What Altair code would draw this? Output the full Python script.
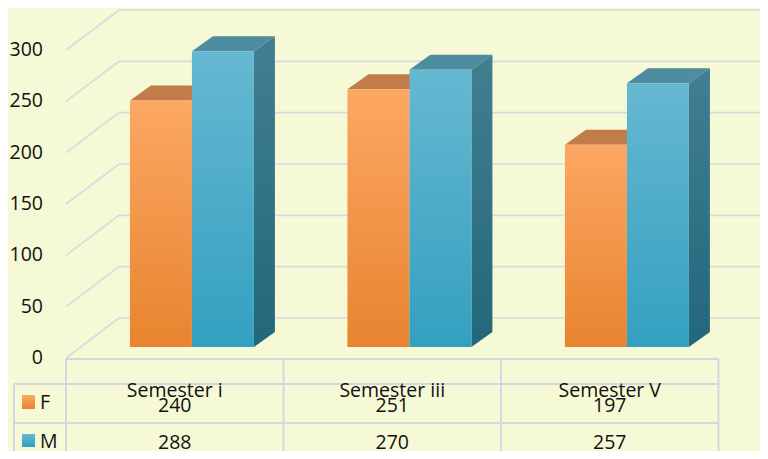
import altair as alt
import pandas as pd

# ---- data ----
categories = ["Semester i", "Semester iii", "Semester V"]
series = ["F", "M"]
f_values = [240, 251, 197]
m_values = [288, 270, 257]
y_ticks = [0, 50, 100, 150, 200, 250, 300]

# ---- layout (pixels inside the chart) ----
W, H = 752, 443
PX_Y = 1.0267      # pixels per value unit
SLOT = 217.5       # pixels per category slot
X0 = 58            # x pixel of slot 0 (left edge of table / plot floor)
Y0 = 350           # y pixel of value 0 on the front plane

x_dom = [-X0 / SLOT, (W - X0) / SLOT]
y_dom = [-(H - Y0) / PX_Y, Y0 / PX_Y]


def px_x(p):
    return p / SLOT


def px_y(p):
    return p / PX_Y


WALL_DX, WALL_DY = px_x(53), px_y(40)     # depth of the side wall
PLANE_DX, PLANE_DY = px_x(15), px_y(11)   # front plane of the bars
BAR_DX, BAR_DY = px_x(21), px_y(15)       # depth of a bar
BAR_W = 0.285
GROUP_C = 0.51

xs = alt.Scale(domain=x_dom, nice=False, zero=False)
ys = alt.Scale(domain=y_dom, nice=False, zero=False)

FONT = "Open Sans"
FS = 19.5
GRID = "#D9D9DE"
TABLE = "#D6D6E0"

# ---- build tables ----
values = {"F": f_values, "M": m_values}
front_rows, top_rows, side_rows = [], [], []
for i, cat in enumerate(categories):
    for k, s in enumerate(series):
        v = values[s][i]
        xl = i + GROUP_C - BAR_W + k * BAR_W + PLANE_DX
        xr = xl + BAR_W
        base = PLANE_DY
        top = v + PLANE_DY
        bid = f"{s}{i}"
        front_rows.append(dict(bar=bid, s=s, xl=xl, xr=xr, top=top, base=base))
        top_rows += [
            dict(bar=bid, s=s, x=xl, y=top, y2=top),
            dict(bar=bid, s=s, x=xl + BAR_DX, y=top + BAR_DY, y2=top),
            dict(bar=bid, s=s, x=xr, y=top + BAR_DY, y2=top),
            dict(bar=bid, s=s, x=xr + BAR_DX, y=top + BAR_DY, y2=top + BAR_DY),
        ]
        side_rows += [
            dict(bar=bid, s=s, x=xr, y=top, y2=base),
            dict(bar=bid, s=s, x=xr + BAR_DX, y=top + BAR_DY, y2=base + BAR_DY),
        ]
front = pd.DataFrame(front_rows)
tops = pd.DataFrame(top_rows)
sides = pd.DataFrame(side_rows)

grid_rows = []
for v in y_ticks:
    grid_rows.append(dict(x=0, x2=WALL_DX, y=v, y2=v + WALL_DY))
    grid_rows.append(dict(x=WALL_DX, x2=x_dom[1], y=v + WALL_DY, y2=v + WALL_DY))
grid = pd.DataFrame(grid_rows)

ticks = pd.DataFrame({"v": y_ticks, "label": [str(t) for t in y_ticks]})

cols = pd.DataFrame({"x": [0, 1, 2, 3]})
table_txt = pd.DataFrame({
    "x": [i + 0.5 for i in range(len(categories))],
    "cat": categories,
    "f": [str(v) for v in f_values],
    "m": [str(v) for v in m_values],
})


def grad(c1, c2):
    return alt.Gradient(gradient="linear", x1=0, x2=0, y1=0, y2=1,
                        stops=[alt.GradientStop(color=c1, offset=0),
                               alt.GradientStop(color=c2, offset=1)])


ORANGE_FRONT = grad("#FCA763", "#E8842F")
BLUE_FRONT = grad("#66B8D1", "#33A0C0")
BLUE_SIDE = grad("#417F91", "#23677A")
ORANGE_TOP = "#C17C4A"
BLUE_TOP = "#4E8CA0"

# ---- layers ----
grid_layer = alt.Chart(grid).mark_rule(color=GRID, strokeWidth=1.6).encode(
    x=alt.X("x:Q", scale=xs, axis=None), x2="x2:Q",
    y=alt.Y("y:Q", scale=ys, axis=None), y2="y2:Q")

tick_layer = alt.Chart(ticks).mark_text(
    align="right", baseline="middle", font=FONT, fontSize=FS, color="#111111"
).encode(x=alt.value(35), y=alt.Y("v:Q", scale=ys, axis=None), text="label:N")


def face_top(s, color):
    return alt.Chart(tops[tops.s == s]).mark_area(color=color, opacity=1).encode(
        x=alt.X("x:Q", scale=xs, axis=None),
        y=alt.Y("y:Q", scale=ys, axis=None), y2="y2:Q", detail="bar:N")


def face_front(s, fill):
    return alt.Chart(front[front.s == s]).mark_rect(fill=fill).encode(
        x=alt.X("xl:Q", scale=xs, axis=None), x2="xr:Q",
        y=alt.Y("top:Q", scale=ys, axis=None), y2="base:Q")


def face_side(s, fill):
    return alt.Chart(sides[sides.s == s]).mark_area(fill=fill, opacity=1).encode(
        x=alt.X("x:Q", scale=xs, axis=None),
        y=alt.Y("y:Q", scale=ys, axis=None), y2="y2:Q", detail="bar:N")


# table lines
floor_line = alt.Chart(cols).mark_rule(color=TABLE, strokeWidth=2).encode(
    x=alt.value(X0), x2=alt.value(X0 + 3 * SLOT), y=alt.value(Y0 + 1))
col_lines = alt.Chart(cols).mark_rule(color=TABLE, strokeWidth=2).encode(
    x=alt.X("x:Q", scale=xs, axis=None), y=alt.value(Y0 + 1), y2=alt.value(H))
row_lines = alt.Chart(pd.DataFrame({"y": [376, 415]})).mark_rule(
    color=TABLE, strokeWidth=2).encode(
    x=alt.value(6), x2=alt.value(X0 + 3 * SLOT), y=alt.Y("y:Q", scale=None))
left_line = alt.Chart(cols).mark_rule(color=TABLE, strokeWidth=2).encode(
    x=alt.value(6), y=alt.value(376), y2=alt.value(H))

txt = dict(font=FONT, fontSize=FS, color="#111111", align="center",
           baseline="alphabetic")
header = alt.Chart(table_txt).mark_text(**txt).encode(
    x=alt.X("x:Q", scale=xs, axis=None), y=alt.value(389), text="cat:N")
f_txt = alt.Chart(table_txt).mark_text(**txt).encode(
    x=alt.X("x:Q", scale=xs, axis=None), y=alt.value(404), text="f:N")
m_txt = alt.Chart(table_txt).mark_text(**txt).encode(
    x=alt.X("x:Q", scale=xs, axis=None), y=alt.value(441), text="m:N")

leg = pd.DataFrame({"s": series})
leg_f_sq = alt.Chart(leg[leg.s == "F"]).mark_rect(fill=ORANGE_FRONT).encode(
    x=alt.value(14), x2=alt.value(27), y=alt.value(387), y2=alt.value(401))
leg_m_sq = alt.Chart(leg[leg.s == "M"]).mark_rect(fill=BLUE_FRONT).encode(
    x=alt.value(14), x2=alt.value(27), y=alt.value(426), y2=alt.value(439))
leg_f = alt.Chart(leg[leg.s == "F"]).mark_text(
    font=FONT, fontSize=FS, color="#111111", align="left", baseline="alphabetic"
).encode(x=alt.value(32), y=alt.value(401), text="s:N")
leg_m = alt.Chart(leg[leg.s == "M"]).mark_text(
    font=FONT, fontSize=FS, color="#111111", align="left", baseline="alphabetic"
).encode(x=alt.value(32), y=alt.value(440), text="s:N")

chart = alt.layer(
    grid_layer, floor_line, col_lines, row_lines, left_line,
    face_top("F", ORANGE_TOP), face_front("F", ORANGE_FRONT),
    face_side("M", BLUE_SIDE), face_top("M", BLUE_TOP), face_front("M", BLUE_FRONT),
    tick_layer, header, f_txt, m_txt, leg_f_sq, leg_m_sq, leg_f, leg_m,
).properties(
    width=W, height=H, background="#F6F9D5", padding=0,
    autosize=alt.AutoSizeParams(type="none"),
).configure_view(stroke=None)

chart.save("out.html", embed_options={"renderer": "svg", "actions": False})
